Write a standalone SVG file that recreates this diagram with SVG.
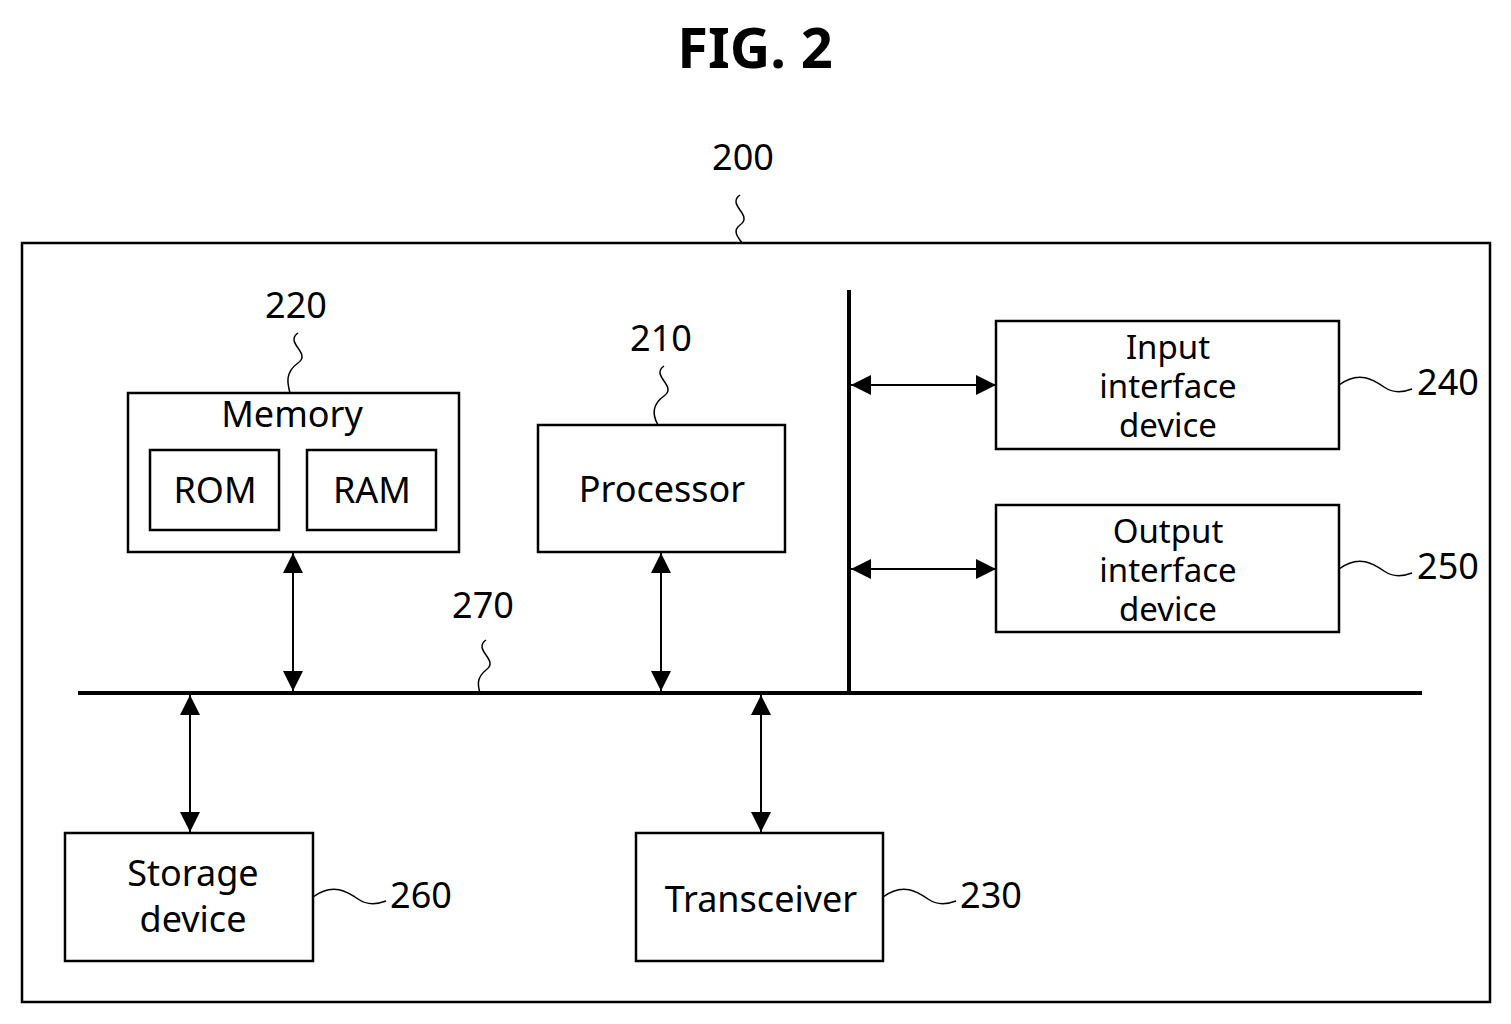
<svg xmlns="http://www.w3.org/2000/svg" width="1511" height="1024" viewBox="0 0 1511 1024">
<defs>
<marker id="a" viewBox="0 0 10 10" refX="10" refY="5" markerWidth="30" markerHeight="20" markerUnits="userSpaceOnUse" orient="auto-start-reverse"><path d="M0,0L10,5L0,10z" fill="#000"/></marker>
<style>
rect.b{fill:#fff;stroke:#000;stroke-width:2.5}
text{font-family:"Noto Sans","DejaVu Sans",sans-serif;font-size:36px;text-anchor:middle;fill:#000}
text.m{font-size:33px}
.w{fill:none;stroke:#000;stroke-width:1.5}
.ar{stroke:#000;stroke-width:2;marker-start:url(#a);marker-end:url(#a)}
.bus{stroke:#000;stroke-width:4}
</style>
</defs>
<rect width="1511" height="1024" fill="#fff"/>
<text x="755" y="68" style="font-size:56px;font-weight:bold">FIG. 2</text>
<g id="n200"><rect class="b" x="22" y="243" width="1468" height="759"/><text x="743" y="170">200</text><path class="w" d="M740,195c-14,10 14,20 0,30c-8,6 -2,12 2,18"/></g>
<g id="n220"><rect class="b" x="128" y="393" width="331" height="159"/><text x="292" y="427">Memory</text>
<rect class="b" x="150" y="450" width="129" height="80"/><text x="215" y="503">ROM</text>
<rect class="b" x="307" y="450" width="129" height="80"/><text x="372" y="503">RAM</text>
<text x="296" y="318">220</text><path class="w" d="M298,333c-14,10 14,20 0,30c-14,10 -10,22 -8,30"/></g>
<g id="n210"><rect class="b" x="538" y="425" width="247" height="127"/><text x="662" y="502">Processor</text><text x="661" y="351">210</text><path class="w" d="M664,366c-14,10 14,20 0,30c-14,10 -10,22 -6,29"/></g>
<g id="n240"><rect class="b" x="996" y="321" width="343" height="128"/><text class="m" x="1168" y="359">Input</text><text class="m" x="1168" y="398">interface</text><text class="m" x="1168" y="437">device</text><text x="1448" y="395">240</text><path class="w" d="M1339,385c20,-15 35,-5 45,2c10,7 20,5 28,2"/></g>
<g id="n250"><rect class="b" x="996" y="505" width="343" height="127"/><text class="m" x="1168" y="543">Output</text><text class="m" x="1168" y="582">interface</text><text class="m" x="1168" y="621">device</text><text x="1448" y="579">250</text><path class="w" d="M1339,569c20,-15 35,-5 45,2c10,7 20,5 28,2"/></g>
<g id="n260"><rect class="b" x="65" y="833" width="248" height="128"/><text x="193" y="886">Storage</text><text x="193" y="932">device</text><text x="421" y="908">260</text><path class="w" d="M313,897c20,-15 35,-5 45,2c10,7 20,5 28,2"/></g>
<g id="n230"><rect class="b" x="636" y="833" width="247" height="128"/><text x="761" y="912">Transceiver</text><text x="991" y="908">230</text><path class="w" d="M883,897c20,-15 35,-5 45,2c10,7 20,5 28,2"/></g>
<g id="n270"><text x="483" y="618">270</text><path class="w" d="M486,640c-14,10 14,20 0,30c-10,8 -8,16 -6,23"/></g>
<g id="connectors">
<line class="bus" x1="78" y1="693" x2="1422" y2="693"/>
<line class="bus" x1="849" y1="290" x2="849" y2="693"/>
<line class="ar" x1="851" y1="385" x2="996" y2="385"/>
<line class="ar" x1="851" y1="569" x2="996" y2="569"/>
<line class="ar" x1="293" y1="553" x2="293" y2="691"/>
<line class="ar" x1="661" y1="553" x2="661" y2="691"/>
<line class="ar" x1="190" y1="695" x2="190" y2="832"/>
<line class="ar" x1="761" y1="695" x2="761" y2="832"/>
</g>
</svg>
